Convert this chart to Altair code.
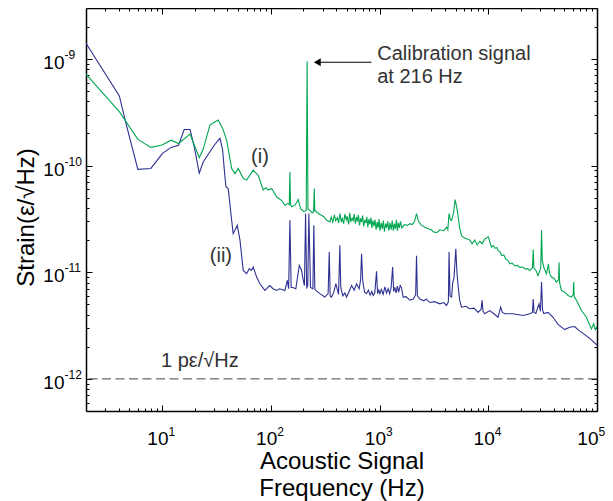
import altair as alt
import pandas as pd

# ---- data ----
green_freq = [2.0, 4.05, 6.0, 7.9, 10.0, 12.1, 14.2, 18.1, 22.0, 23.9, 27.6, 30.9, 32.9, 36.1, 39.3,
              43.7, 46.8, 50.2, 55.8, 60.0, 69.0, 76.7, 85.3, 90.0, 94.8, 102, 113, 126, 135, 143,
              148, 150, 152, 156, 167, 179, 188, 202, 212, 216, 220, 229, 240, 248, 251, 254, 264,
              280, 293, 310, 326, 350,
              360, 372, 385, 395, 410, 420, 432, 445, 455, 468, 480, 495, 505, 520, 532, 545, 560,
              572, 585, 600, 615, 628, 640, 655, 670, 685, 700, 715, 735, 750, 765, 780, 800, 815,
              835, 850, 870, 890, 910, 930, 950, 970, 990, 1010, 1035, 1060, 1085, 1110, 1140,
              1165, 1190, 1220, 1250, 1280, 1310, 1340, 1370, 1400, 1430, 1460, 1490, 1520, 1560,
              1600,
              1700, 1800, 1900, 2000, 2100, 2190, 2280, 2430, 2600, 2800, 3000, 3110, 3350, 3600,
              3900, 4130, 4250, 4360, 4480, 4600, 4800, 4960, 5100, 5280, 5450, 5680, 6000, 6400,
              6760, 7100, 7500, 7900, 8360, 8800, 9300, 10000, 10400, 10700, 11100, 11500, 12000,
              12300, 12800, 13300, 13900, 14500, 15100, 15800, 16600, 17500, 18500, 19500, 20700,
              22000, 23000, 24100, 25500, 25900, 26300, 27400, 28700, 30400,
              30900, 31400, 32500, 34300, 35800, 36500, 38100, 40200, 42400, 44300, 44800, 45300,
              47100, 50500, 54200, 58200, 60500, 61100, 61700, 63800, 67500, 71900, 75500, 79900,
              84500, 88900, 93400, 96500, 100000]
green_strain = [7.2e-10, 3.2e-10, 1.76e-10, 1.48e-10, 1.56e-10, 1.73e-10, 1.61e-10, 1.97e-10, 1.19e-10,
                1.42e-10, 2.40e-10, 2.57e-10, 2.67e-10, 2.23e-10, 1.73e-10,
                9.4e-11, 8.4e-11, 9.4e-11, 7.6e-11, 7.3e-11, 9.05e-11, 8.1e-11, 5.9e-11, 6.2e-11,
                5.9e-11, 6.1e-11, 5.1e-11, 4.7e-11, 4.25e-11, 4.4e-11,
                4.3e-11, 8.7e-11, 4.3e-11, 4.1e-11, 4.25e-11, 4.8e-11, 3.95e-11, 3.7e-11, 3.8e-11,
                9.5e-10, 3.9e-11, 3.8e-11, 3.6e-11, 3.7e-11, 6.1e-11, 3.8e-11, 3.67e-11,
                3.5e-11, 3.42e-11, 3.3e-11, 3.07e-11, 2.96e-11,
                3.3e-11, 2.95e-11, 3.45e-11, 3.05e-11, 3.25e-11, 2.9e-11, 3.55e-11, 3.0e-11, 3.2e-11,
                2.85e-11, 3.5e-11, 3.1e-11, 3.35e-11, 2.8e-11, 3.6e-11, 3.0e-11, 3.2e-11,
                3.05e-11, 3.5e-11, 2.85e-11, 3.3e-11, 3.0e-11, 3.45e-11, 2.75e-11, 3.2e-11, 2.95e-11,
                3.4e-11, 2.7e-11, 3.1e-11, 2.9e-11, 3.3e-11, 2.65e-11, 3.15e-11, 2.8e-11,
                3.25e-11, 2.6e-11, 3.05e-11, 2.7e-11, 3.1e-11, 2.5e-11, 2.95e-11, 2.6e-11, 3.15e-11,
                2.45e-11, 2.9e-11, 2.55e-11, 3.05e-11, 2.4e-11, 2.85e-11,
                2.6e-11, 3.0e-11, 2.45e-11, 2.9e-11, 2.5e-11, 3.05e-11, 2.45e-11, 2.85e-11, 2.55e-11,
                3.1e-11, 2.45e-11, 2.9e-11, 2.6e-11, 3.0e-11,
                2.6e-11,
                2.8e-11, 2.75e-11, 2.85e-11, 2.8e-11, 3.0e-11, 3.55e-11, 3.0e-11, 2.75e-11, 2.65e-11,
                2.55e-11, 2.5e-11, 2.4e-11, 2.35e-11, 2.5e-11,
                2.45e-11, 2.65e-11, 2.5e-11, 3.55e-11, 3.1e-11, 3.05e-11, 3.6e-11, 4.8e-11, 4.2e-11,
                3.4e-11, 2.6e-11, 2.2e-11, 2.1e-11, 2.05e-11,
                2.0e-11, 1.85e-11, 2.0e-11, 1.8e-11, 1.95e-11, 1.85e-11, 2.05e-11, 2.15e-11, 1.9e-11,
                1.72e-11, 1.78e-11, 1.68e-11, 1.7e-11,
                1.6e-11, 1.55e-11, 1.43e-11, 1.45e-11, 1.33e-11, 1.3e-11, 1.2e-11, 1.22e-11, 1.15e-11,
                1.16e-11, 1.11e-11, 1.12e-11,
                1.07e-11, 1.08e-11, 1.04e-11, 1.1e-11, 1.63e-11, 1.1e-11, 1.04e-11, 9.3e-12, 1.1e-11,
                2.47e-11, 1.3e-11, 1.1e-11, 9.7e-12, 1.2e-11, 9.8e-12, 9.0e-12, 8.8e-12, 8.1e-12,
                8.5e-12, 1.24e-11, 8.0e-12,
                6.75e-12, 6.5e-12, 6.05e-12, 5.84e-12, 6.2e-12, 8.1e-12, 5.9e-12, 5.6e-12, 5.0e-12,
                4.37e-12, 4.1e-12, 3.78e-12,
                3.3e-12, 2.94e-12, 3.3e-12, 2.9e-12, 3.1e-12]

blue_freq = [2.0, 4.05, 4.66, 6.0, 7.9, 10.1, 12.1, 14.2, 16.0, 18.1, 19.8, 22.0, 23.9, 30.2, 34.1,
             36.1, 37.9, 38.8, 40.6, 43.7, 45.1, 46.8, 49.2, 52.1, 55.8, 60.0, 63.4, 66.5, 69.0,
             74.2, 79.5, 88.3, 98, 105, 113, 121, 135, 142, 146, 150, 154, 159, 170, 183, 192, 199,
             204, 209, 214, 219, 224, 232, 244, 249, 254, 260, 283, 314, 337, 345, 352, 362, 380,
             397, 420, 432, 440, 460, 480, 498, 525, 554, 585, 615, 650, 670, 684, 700, 707, 730,
             760, 790, 820, 850, 874, 905, 939, 960, 985, 1008, 1040, 1080, 1120, 1160, 1200, 1240,
             1280, 1320, 1350, 1380, 1420, 1460, 1500, 1550, 1590, 1650, 1750, 1900, 2050, 2150,
             2190, 2230, 2350, 2550, 2700, 2900, 3200, 3590, 3900, 4130, 4300, 4360, 4450, 4600,
             4700, 4850, 5030, 5150, 5280, 5450, 5680, 6200, 6760, 7400, 8070, 8600, 8780, 8950,
             9280, 10300, 11200, 12300, 13000, 13500, 14200, 16900, 20900, 24100, 25500, 25900,
             26400, 27400, 29300, 30200, 30900, 31600, 32400, 35500, 39400, 43800, 50500, 56000,
             62400, 68000, 74400, 85700, 99000, 100000]
blue_strain = [1.4e-9, 4.5e-10, 2.49e-10, 9.2e-11, 9.4e-11, 1.30e-10, 1.48e-10, 1.55e-10, 2.18e-10,
               2.18e-10, 1.50e-10, 8.5e-11, 1.08e-10, 1.55e-10, 1.80e-10,
               1.40e-10, 7.8e-11, 6.3e-11, 6.1e-11, 3.07e-11, 2.30e-11, 2.47e-11, 2.75e-11, 2.0e-11,
               1.04e-11, 9.7e-12, 1.08e-11, 1.04e-11, 1.12e-11,
               9.0e-12, 7.8e-12, 6.75e-12, 7.5e-12, 7.0e-12, 6.75e-12, 7.0e-12, 6.75e-12, 8.4e-12,
               7.0e-12, 3.07e-11, 7.2e-12, 7.2e-12, 7.0e-12, 1.16e-11, 1.04e-11, 8.4e-12,
               7.5e-12, 3.55e-11, 7.2e-12, 7.5e-12, 3.55e-11, 7.2e-12, 7.0e-12, 2.75e-11, 7.0e-12,
               6.75e-12, 6.3e-12, 5.85e-12, 6.3e-12, 1.55e-11, 6.0e-12, 5.85e-12, 6.5e-12,
               7.8e-12, 6.2e-12, 1.79e-11, 7.2e-12, 6.0e-12, 6.4e-12, 5.85e-12, 6.6e-12, 7.5e-12,
               6.8e-12, 7.8e-12, 7.0e-12, 8.5e-12, 1.49e-11, 8.5e-12, 7.8e-12, 6.5e-12,
               6.3e-12, 6.8e-12, 6.1e-12, 6.6e-12, 6.05e-12, 6.4e-12, 1.02e-11, 6.3e-12, 6.8e-12,
               6.3e-12, 6.9e-12, 6.2e-12, 7.3e-12, 6.4e-12, 7.0e-12, 6.3e-12,
               7.2e-12, 1.12e-11, 6.6e-12, 7.2e-12, 6.4e-12, 7.4e-12, 6.5e-12, 7.5e-12, 7.2e-12,
               5.85e-12, 5.9e-12, 5.47e-12, 5.6e-12, 6.2e-12,
               1.43e-11, 6.0e-12, 5.6e-12, 5.4e-12, 5.6e-12, 5.2e-12, 5.3e-12, 5.05e-12, 5.2e-12,
               4.88e-12, 5.3e-12, 1.55e-11, 6.0e-12, 5.85e-12,
               7.8e-12, 9.0e-12, 1.66e-11, 1.0e-11, 7.5e-12, 5.5e-12, 4.7e-12, 4.8e-12, 4.55e-12,
               4.6e-12, 4.2e-12, 4.5e-12, 5.47e-12, 4.3e-12,
               4.08e-12, 4.37e-12, 4.1e-12, 3.78e-12, 4.7e-12, 4.2e-12, 4.08e-12, 4.08e-12, 3.93e-12,
               4.08e-12, 4.2e-12, 5.6e-12,
               4.2e-12, 4.1e-12, 5.05e-12, 4.3e-12, 8.1e-12, 4.4e-12, 4.1e-12, 4.2e-12, 3.78e-12,
               3.24e-12, 2.9e-12, 3.05e-12,
               3.1e-12, 2.85e-12, 2.67e-12, 2.40e-12, 2.1e-12, 2.05e-12]

x_domain = [2, 100000]
y_domain = [5e-13, 3e-9]
x_major = [10, 100, 1000, 10000, 100000]
y_major = [1e-12, 1e-11, 1e-10, 1e-9]
minor_mult = [2, 3, 4, 5, 6, 7, 8, 9]
x_minor = [m * d for d in [1, 10, 100, 1000, 10000] for m in minor_mult
           if x_domain[0] < m * d < x_domain[1]]
y_minor = [m * 10.0 ** e for e in [-13, -12, -11, -10, -9] for m in minor_mult
           if y_domain[0] * 1.001 < m * 10.0 ** e < y_domain[1] * 0.999]

ref_level = 1e-12
x_title = ["Acoustic Signal", "Frequency (Hz)"]
y_title = "Strain(ε/√Hz)"
curve_labels = ["(i)", "(ii)"]
curve_label_f = [79.5, 34.8]
curve_label_s = [1.2e-10, 1.41e-11]
ref_label = "1 pε/√Hz"
calib_text = ["Calibration signal", "at 216 Hz"]

GREEN = "#00a651"
BLUE = "#2e3192"
TXT = "#333333"
FONT = "Liberation Sans"

df_g = pd.DataFrame({"f": green_freq, "s": green_strain})
df_b = pd.DataFrame({"f": blue_freq, "s": blue_strain})

xs = alt.Scale(type="log", domain=x_domain, nice=False)
ys = alt.Scale(type="log", domain=y_domain, nice=False)


def tick_axis(orient, values, size, frame):
    # inward ticks: negative tick length given as an expression
    return alt.Axis(orient=orient, values=values, tickSize={"expr": str(-size)},
                    tickColor="black", tickWidth=1, labels=False, grid=False, title=None,
                    domain=frame, domainColor="black", domainWidth=1.5)


def label_axis(orient, values, expr, align, offset, padding, fsize, **kw):
    return alt.Axis(orient=orient, values=values, ticks=False, domain=False, grid=False,
                    labelExpr=expr, labelAlign=align, labelOffset=offset, labelPadding=padding,
                    labelFontSize=fsize, labelFont=FONT, labelColor="black", labelBaseline="middle",
                    labelFlush=False, labelOverlap=False, **kw)


def axis_layer(xaxis, yaxis):
    return alt.Chart(df_g).mark_point(opacity=0).encode(
        x=alt.X("f:Q", scale=xs, axis=xaxis),
        y=alt.Y("s:Q", scale=ys, axis=yaxis))


exp_expr = "round(log(datum.value) / LN10)"
# the last x label sits at the right edge: pull it in a little so it is not cut
x_lab_off = {"condition": {"test": "datum.value >= 100000", "value": 1}, "value": 6}

axes_layers = [
    axis_layer(tick_axis("bottom", x_major, 6, True), tick_axis("left", y_major, 6, True)),
    axis_layer(tick_axis("bottom", x_minor, 3, False), tick_axis("left", y_minor, 3, False)),
    axis_layer(tick_axis("top", x_major, 6, True), tick_axis("right", y_major, 6, True)),
    axis_layer(tick_axis("top", x_minor, 3, False), tick_axis("right", y_minor, 3, False)),
    axis_layer(label_axis("bottom", x_major, "'10'", "right", x_lab_off, 27, 19, title=None),
               label_axis("left", y_major, "'10'", "right", 3.5, 22, 19, title=None)),
    axis_layer(label_axis("bottom", x_major, exp_expr, "left", x_lab_off, 20, 12,
                          title=x_title, titleFont=FONT, titleFontSize=24, titleFontWeight="normal",
                          titleColor="black", titleLineHeight=27, titleX=255.5, titleY=57,
                          titleAlign="center", titleBaseline="alphabetic"),
               label_axis("left", y_major, exp_expr, "left", -4.5, 22, 12,
                          title=y_title, titleFont=FONT, titleFontSize=24, titleFontWeight="normal",
                          titleColor="black", titleX=-60, titleY=209, titleAngle=270,
                          titleAlign="center", titleBaseline="middle")),
]

blue_line = alt.Chart(df_b).mark_line(color=BLUE, strokeWidth=1.1, clip=True).encode(
    x=alt.X("f:Q", scale=xs, axis=None), y=alt.Y("s:Q", scale=ys, axis=None))
green_line = alt.Chart(df_g).mark_line(color=GREEN, strokeWidth=1.1, clip=True).encode(
    x=alt.X("f:Q", scale=xs, axis=None), y=alt.Y("s:Q", scale=ys, axis=None))

ref_rule = alt.Chart(pd.DataFrame({"s": [ref_level]})).mark_rule(
    color="#444444", strokeWidth=1, strokeDash=[9, 4.5]).encode(
    y=alt.Y("s:Q", scale=ys, axis=None))

ann_df = pd.DataFrame({"f": curve_label_f, "s": curve_label_s, "t": curve_labels})
curve_text = alt.Chart(ann_df).mark_text(font=FONT, fontSize=20, color=TXT, align="center",
                                         baseline="middle").encode(
    x=alt.X("f:Q", scale=xs, axis=None), y=alt.Y("s:Q", scale=ys, axis=None), text="t:N")

ref_text = alt.Chart(pd.DataFrame({"f": [22.3], "s": [1.29e-12], "t": [ref_label]})).mark_text(
    font=FONT, fontSize=20, color=TXT, align="center", baseline="alphabetic").encode(
    x=alt.X("f:Q", scale=xs, axis=None), y=alt.Y("s:Q", scale=ys, axis=None), text="t:N")

calib = alt.Chart(pd.DataFrame({"f": [952], "s": [9.8e-10]})).mark_text(
    font=FONT, fontSize=20, color=TXT, align="left", baseline="alphabetic", lineHeight=23).encode(
    x=alt.X("f:Q", scale=xs, axis=None), y=alt.Y("s:Q", scale=ys, axis=None),
    text=alt.value(calib_text))

arrow_line = alt.Chart(pd.DataFrame({"f": [268], "f2": [844], "s": [9.3e-10]})).mark_rule(
    color="black", strokeWidth=1.2).encode(
    x=alt.X("f:Q", scale=xs, axis=None), x2="f2:Q", y=alt.Y("s:Q", scale=ys, axis=None))
arrow_head = alt.Chart(pd.DataFrame({"f": [268], "s": [9.3e-10]})).mark_point(
    shape="triangle-left", filled=True, color="black", size=64, opacity=1).encode(
    x=alt.X("f:Q", scale=xs, axis=None), y=alt.Y("s:Q", scale=ys, axis=None))

chart = alt.layer(*axes_layers, ref_rule, blue_line, green_line, curve_text, ref_text, calib,
                  arrow_line, arrow_head).resolve_axis(
    x="independent", y="independent").properties(
    width=511, height=403,
    padding={"left": 78, "top": 0, "right": 8, "bottom": 90},
    autosize=alt.AutoSizeParams(type="none"),
).configure_view(stroke="black", strokeWidth=1.5).configure(background="white")

chart.save("out.html", embed_options={"renderer": "svg", "actions": False})
